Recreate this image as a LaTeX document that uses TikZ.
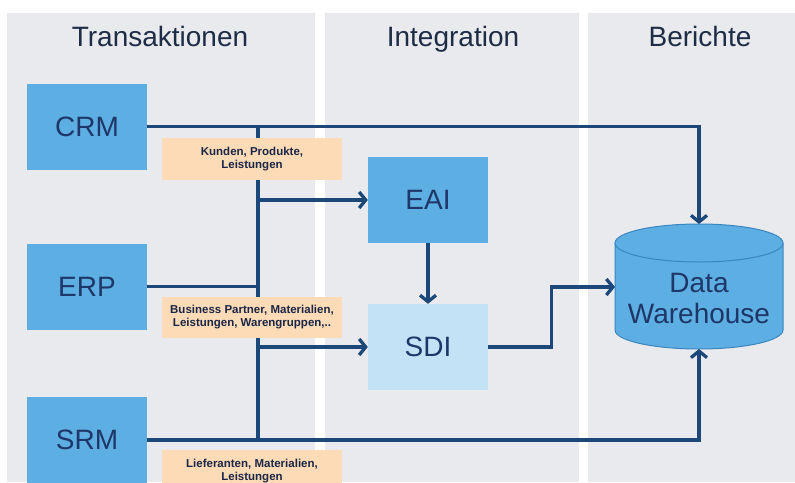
\documentclass[tikz,border=0pt]{standalone}
\usepackage{fontspec}
\setmainfont{Liberation Sans}
\usetikzlibrary{arrows.meta}
\definecolor{panel}{HTML}{E8EAED}
\definecolor{midblue}{HTML}{5DAEE3}
\definecolor{lightblue}{HTML}{C4E2F6}
\definecolor{peach}{HTML}{FDDBB6}
\definecolor{navy}{HTML}{1B4878}
\definecolor{boxtext}{HTML}{1F3768}
\definecolor{headtext}{HTML}{1E2C46}
\definecolor{lbltext}{HTML}{1A2647}
\definecolor{cylline}{HTML}{3A86C0}
\begin{document}
\begin{tikzpicture}[x=1pt,y=-1pt,
  panelbox/.style={fill=panel,draw=none},
  head/.style={text=headtext,font=\fontsize{28}{30}\selectfont,anchor=base},
  sysbox/.style={fill=midblue,draw=none,minimum width=120pt,minimum height=86pt,text=boxtext,font=\fontsize{28}{30}\selectfont,inner sep=0pt},
  lbl/.style={fill=peach,draw=none,minimum width=180pt,text=lbltext,font=\fontsize{11.5}{13}\selectfont\bfseries,align=center,inner sep=0pt},
  conn/.style={draw=navy,line width=3.3pt},
  arr/.style={conn,-{Straight Barb[length=6.5pt,width=16pt]}}
]
\clip (0,0) rectangle (795,482);
\fill[white] (0,0) rectangle (795,482);
% panels
\fill[panelbox] (7,12.5) rectangle (315,482);
\fill[panelbox] (325,12.5) rectangle (579,482);
\fill[panelbox] (588,12.5) rectangle (795,482);
\node[head] (h1) at (160,46) {Transaktionen};
\node[head] (h2) at (453,46) {Integration};
\node[head] (h3) at (700,46) {Berichte};
% source systems
\node[sysbox] (crm) at (87,126.5) {CRM};
\node[sysbox] (erp) at (87,286.5) {ERP};
\node[sysbox] (srm) at (87,440) {SRM};
% integration
\node[sysbox] (eai) at (428,200) {EAI};
\node[sysbox,fill=lightblue] (sdi) at (428,347) {SDI};
% data warehouse cylinder
\fill[midblue] (615,243) rectangle (783,330);
\fill[midblue] (699,330) ellipse [x radius=84, y radius=19];
\draw[cylline,line width=1pt] (615,243) -- (615,330) arc[start angle=180,end angle=0,x radius=84,y radius=19] -- (783,243);
\filldraw[fill=midblue,draw=cylline,line width=1pt] (699,243) ellipse [x radius=84, y radius=19];
\node[text=boxtext,font=\fontsize{28}{31}\selectfont,align=center] (dw) at (699,298) {Data\\Warehouse};
\coordinate (dwtop) at (699,224);
\coordinate (dwbot) at (699,349);
\coordinate (dwleft) at (615,287);
\coordinate (bus) at (258,0);
% connectors
\draw[conn] (crm.east -| bus) -- (srm.east -| bus);
\draw[arr] (crm.east) -| (dwtop);
\draw[conn] (erp.east) -- (erp.east -| bus);
\draw[arr] (srm.east) -| (dwbot);
\draw[arr] (eai.west -| bus) -- (eai.west);
\draw[arr] (sdi.west -| bus) -- (sdi.west);
\draw[arr] (eai.south) -- (sdi.north);
\draw[arr] (sdi.east) -- ++(63,0) |- (dwleft);
% labels
\node[lbl,minimum height=42pt] (l1) at (252,159) {Kunden, Produkte,\\Leistungen};
\node[lbl,minimum height=41pt] (l2) at (252,317.5) {Business Partner, Materialien,\\Leistungen, Warengruppen,..};
\node[lbl,minimum height=42pt] (l3) at (252,471) {Lieferanten, Materialien,\\Leistungen};
\end{tikzpicture}
\end{document}
